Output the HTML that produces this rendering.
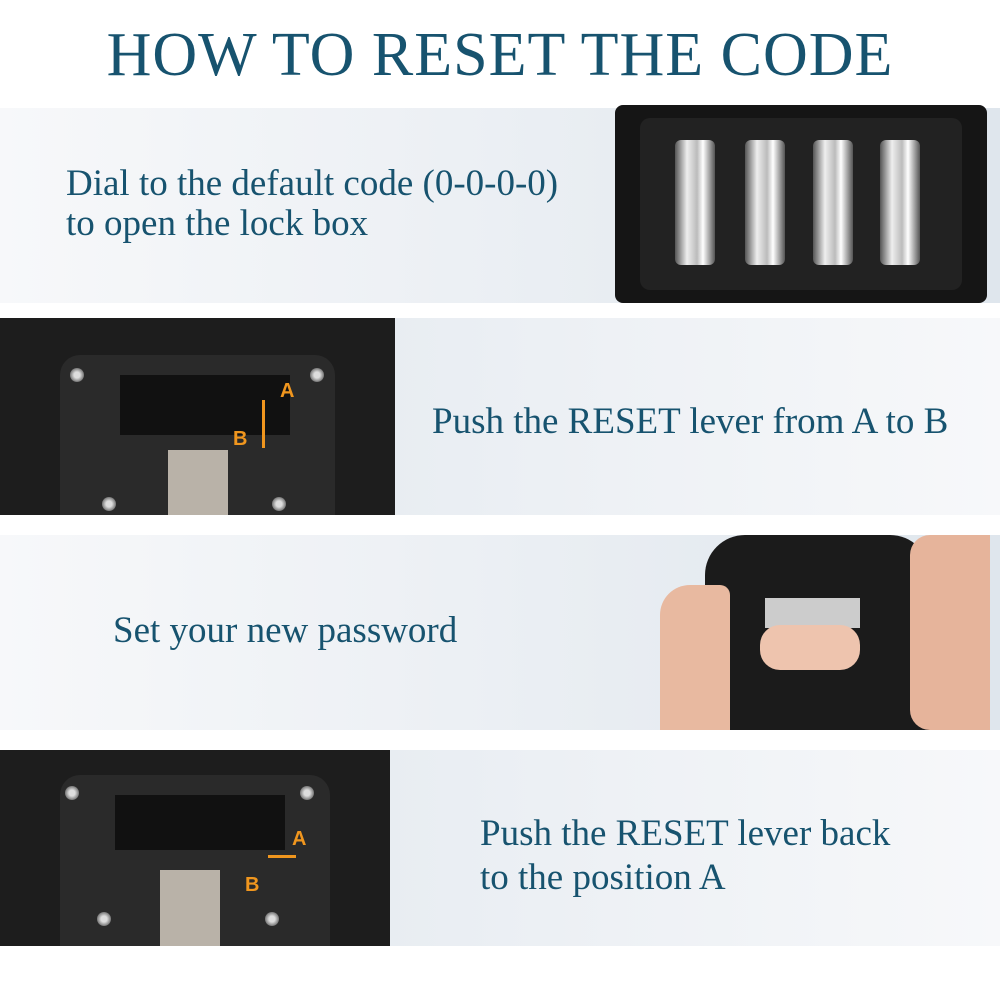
<!DOCTYPE html>
<html><head><meta charset="utf-8"><style>
body{margin:0;width:1000px;height:1000px;background:#fff;position:relative;overflow:hidden;font-family:"Liberation Serif",serif}
.t{position:absolute;color:#17536f;font-family:"Liberation Serif",serif;white-space:nowrap}
.p{position:absolute;left:0;width:1000px}
.g1{background:linear-gradient(90deg,#f7f8fa,#dfe6ed)}
.g2{background:linear-gradient(90deg,#dfe6ed,#f7f8fa)}
.abs{position:absolute}
.screw{position:absolute;width:14px;height:14px;border-radius:50%;background:radial-gradient(circle,#ddd 30%,#777 70%)}
.o{position:absolute;color:#f0961e;font-family:"Liberation Sans",sans-serif;font-weight:bold;font-size:20px}
.dial{position:absolute;width:40px;height:125px;border-radius:6px;background:linear-gradient(90deg,#555,#eee 30%,#bbb 55%,#fff 70%,#555)}
</style></head><body>
<div class="t" style="left:0;width:1000px;top:20px;text-align:center;font-size:62px;letter-spacing:1px">HOW TO RESET THE CODE</div>

<div class="p g1" style="top:108px;height:195px"></div>
<div class="t" style="left:66px;top:164px;font-size:37px;line-height:40px">Dial to the default code (0-0-0-0)<br>to open the lock box</div>
<div class="abs" style="left:615px;top:105px;width:372px;height:198px;background:#151515;border-radius:8px"></div>
<div class="abs" style="left:640px;top:118px;width:322px;height:172px;background:#222;border-radius:10px"></div>
<div class="dial" style="left:675px;top:140px"></div>
<div class="dial" style="left:745px;top:140px"></div>
<div class="dial" style="left:813px;top:140px"></div>
<div class="dial" style="left:880px;top:140px"></div>

<div class="p g2" style="top:318px;height:197px"></div>
<div class="abs" style="left:0;top:318px;width:395px;height:197px;background:#1d1d1d"></div>
<div class="abs" style="left:60px;top:355px;width:275px;height:160px;background:#2a2a2a;border-radius:20px 20px 0 0"></div>
<div class="abs" style="left:120px;top:375px;width:170px;height:60px;background:#111"></div>
<div class="abs" style="left:168px;top:450px;width:60px;height:65px;background:#b9b2a8"></div>
<div class="screw" style="left:70px;top:368px"></div><div class="screw" style="left:310px;top:368px"></div>
<div class="screw" style="left:102px;top:497px"></div><div class="screw" style="left:272px;top:497px"></div>
<div class="o" style="left:280px;top:380px">A</div><div class="o" style="left:233px;top:428px">B</div>
<div class="abs" style="left:262px;top:400px;width:3px;height:48px;background:#f0961e"></div>
<div class="t" style="left:432px;top:400px;font-size:37px">Push the RESET lever from A to B</div>

<div class="p g1" style="top:535px;height:195px"></div>
<div class="t" style="left:113px;top:609px;font-size:37px">Set your new password</div>
<div class="abs" style="left:705px;top:535px;width:225px;height:195px;background:#1b1b1b;border-radius:40px 40px 0 0"></div>
<div class="abs" style="left:765px;top:598px;width:95px;height:30px;background:#ccc"></div>
<div class="abs" style="left:660px;top:585px;width:70px;height:145px;background:#e8b9a0;border-radius:30px 10px 0 0"></div>
<div class="abs" style="left:760px;top:625px;width:100px;height:45px;background:#eec4ae;border-radius:20px"></div>
<div class="abs" style="left:910px;top:535px;width:80px;height:195px;background:#e6b49b;border-radius:20px 0 0 20px"></div>

<div class="p g2" style="top:750px;height:196px"></div>
<div class="abs" style="left:0;top:750px;width:390px;height:196px;background:#1d1d1d"></div>
<div class="abs" style="left:60px;top:775px;width:270px;height:171px;background:#2a2a2a;border-radius:20px 20px 0 0"></div>
<div class="abs" style="left:115px;top:795px;width:170px;height:55px;background:#111"></div>
<div class="abs" style="left:160px;top:870px;width:60px;height:76px;background:#b9b2a8"></div>
<div class="screw" style="left:65px;top:786px"></div><div class="screw" style="left:300px;top:786px"></div>
<div class="screw" style="left:97px;top:912px"></div><div class="screw" style="left:265px;top:912px"></div>
<div class="o" style="left:292px;top:828px">A</div><div class="o" style="left:245px;top:874px">B</div>
<div class="abs" style="left:268px;top:855px;width:28px;height:3px;background:#f0961e"></div>
<div class="t" style="left:480px;top:812px;font-size:37px;line-height:44px">Push the RESET lever back<br>to the position A</div>
</body></html>
